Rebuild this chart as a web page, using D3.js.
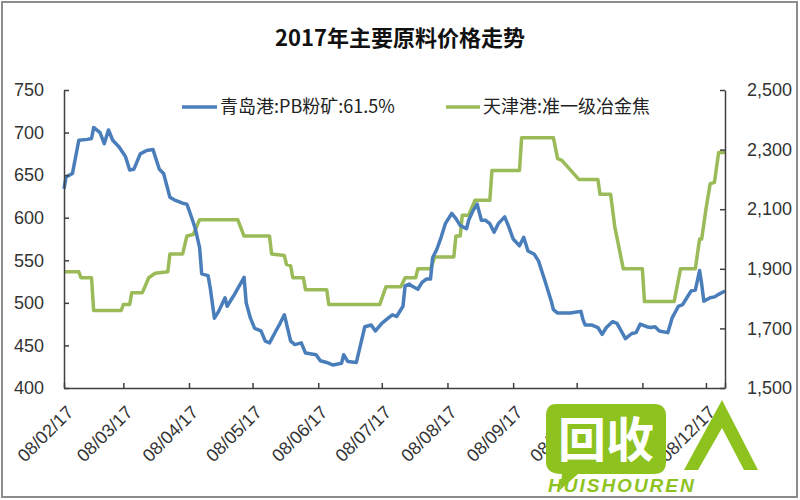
<!DOCTYPE html>
<html>
<head>
<meta charset="utf-8">
<script src="https://cdn.jsdelivr.net/npm/d3@7"></script>
<style>
  html, body { margin: 0; padding: 0; background: #fff; }
  svg { display: block; }
</style>
</head>
<body>
<svg id="chart" width="800" height="500"></svg>
<script>
// ---------------- data ----------------
const title = "2017年主要原料价格走势";
const seriesNames = ["青岛港:PB粉矿:61.5%", "天津港:准一级冶金焦"];

const xTickLabels = ["2017-02-08","2017-03-08","2017-04-08","2017-05-08","2017-06-08","2017-07-08",
                     "2017-08-08","2017-09-08","2017-10-08","2017-11-08","2017-12-08"];
const xDomain = ["2017-02-08", "2017-12-17"];
const leftTicks = [400, 450, 500, 550, 600, 650, 700, 750];
const rightTicks = [1500, 1700, 1900, 2100, 2300, 2500];

const blueDates = ["02-08","02-09","02-12","02-15","02-19","02-21","02-22","02-25","02-27","03-01",
  "03-03","03-06","03-09","03-11","03-13","03-16","03-19","03-22","03-25","03-27",
  "03-30","04-01","04-05","04-07","04-09","04-11","04-13","04-14","04-17","04-18",
  "04-20","04-22","04-25","04-26","04-29","05-04","05-05","05-07","05-09","05-12",
  "05-14","05-16","05-19","05-21","05-23","05-26","05-28","05-31","06-02","06-07",
  "06-09","06-12","06-15","06-19","06-20","06-22","06-26","06-30","07-03","07-05",
  "07-08","07-11","07-13","07-15","07-18","07-19","07-21","07-22","07-25","07-27",
  "07-29","07-31","08-01","08-03","08-05","08-07","08-10","08-12","08-14","08-17",
  "08-18","08-20","08-22","08-24","08-26","08-28","08-30","09-01","09-04","09-06",
  "09-08","09-11","09-13","09-15","09-18","09-20","09-23","09-26","09-27","09-29",
  "10-05","10-10","10-11","10-12","10-15","10-18","10-20","10-22","10-25","10-27",
  "10-29","10-31","11-03","11-05","11-07","11-10","11-12","11-14","11-16","11-20",
  "11-22","11-25","11-27","11-29","12-01","12-03","12-05","12-06","12-07","12-10",
  "12-12","12-14","12-17"];
const blueValues = [634,648,652,691,692,693,706,700,687,703,
  691,683,672,656,657,675,679,680,657,652,
  624,621,617,616,602,587,565,534,532,518,
  482,490,506,496,508,530,500,482,470,467,
  455,453,467,476,486,455,451,453,441,439,
  432,430,427,429,439,431,430,472,474,467,
  476,482,486,484,496,520,522,520,516,524,
  528,528,553,563,577,593,605,599,591,587,
  597,608,616,597,597,593,583,593,601,589,
  575,567,577,561,557,549,526,502,492,488,
  488,490,480,474,474,471,463,471,478,476,
  467,458,464,465,475,472,471,472,467,465,
  482,496,498,506,514,515,538,522,502,506,
  507,510,514];

const greenDates = ["02-08","02-15","02-16","02-21","02-22","03-07","03-08","03-11","03-12","03-17",
  "03-20","03-23","03-29","03-30","04-05","04-07","04-10","04-13","05-01","05-04",
  "05-16","05-17","05-23","05-24","05-26","05-27","06-01","06-02","06-12","06-13",
  "07-07","07-10","07-17","07-19","07-24","07-25","07-31","08-02","08-11","08-12",
  "08-14","08-15","08-18","08-21","08-28","08-29","09-11","09-12","09-27","09-29",
  "10-01","10-09","10-18","10-19","10-24","10-26","10-30","11-08","11-09","11-23",
  "11-26","12-03","12-05","12-06","12-08","12-10","12-12","12-14","12-17"];
const greenValues = [1890,1890,1870,1870,1760,1760,1780,1780,1820,1820,
  1870,1885,1890,1950,1950,2010,2015,2065,2065,2010,
  2010,1950,1945,1915,1910,1870,1870,1830,1830,1780,
  1780,1840,1840,1870,1870,1900,1900,1940,1940,2010,
  2010,2080,2080,2130,2130,2230,2230,2340,2340,2270,
  2264,2200,2200,2150,2150,2040,1900,1900,1790,1790,
  1900,1900,2000,2000,2100,2185,2190,2290,2290];

// ---------------- chart ----------------
const parse = d3.timeParse("%Y-%m-%d");
const fmt = d3.timeFormat("%d/%m/%y");
const svg = d3.select("#chart");

const L = 64, R = 725, T = 90, B = 388;
const x = d3.scaleTime().domain(xDomain.map(parse)).range([L, R]);
const yL = d3.scaleLinear().domain([400, 750]).range([B, T]);
const yR = d3.scaleLinear().domain([1500, 2500]).range([B, T]);

const BLUE = "#4a7ebb", GREEN = "#9bbb59";
const axisColor = "#404040";
const labelFont = "'Liberation Sans', Arial, sans-serif";
const cjkFont = "'Noto Sans CJK SC', sans-serif";

svg.append("rect").attr("x", 0).attr("y", 0).attr("width", 800).attr("height", 500).attr("fill", "#fff");
svg.append("rect").attr("x", 2).attr("y", 2).attr("width", 795).attr("height", 495)
  .attr("fill", "none").attr("stroke", "#8c8c8c").attr("stroke-width", 2);

// title
svg.append("text").attr("x", 400).attr("y", 46).attr("text-anchor", "middle")
  .attr("font-family", cjkFont).attr("font-weight", "bold").attr("font-size", 22)
  .attr("fill", "#111").text(title);

// lines
const blueData = blueDates.map((d, i) => ({ date: parse("2017-" + d), value: blueValues[i] }));
const greenData = greenDates.map((d, i) => ({ date: parse("2017-" + d), value: greenValues[i] }));

svg.append("path").datum(greenData)
  .attr("fill", "none").attr("stroke", GREEN).attr("stroke-width", 3.5).attr("stroke-linejoin", "round")
  .attr("d", d3.line().x(d => x(d.date)).y(d => yR(d.value)));
svg.append("path").datum(blueData)
  .attr("fill", "none").attr("stroke", BLUE).attr("stroke-width", 3.5).attr("stroke-linejoin", "round")
  .attr("d", d3.line().x(d => x(d.date)).y(d => yL(d.value)));

// axes
function styleAxis(g) {
  g.selectAll("path, line").attr("stroke", axisColor).attr("stroke-width", 1.5);
  g.selectAll("text").attr("font-family", labelFont).attr("font-size", 18).attr("fill", "#333");
}
const gL = svg.append("g").attr("transform", `translate(${L},0)`)
  .call(d3.axisLeft(yL).tickValues(leftTicks).tickSizeInner(-5).tickSizeOuter(0).tickPadding(20).tickFormat(d3.format("d")));
styleAxis(gL);
const gR = svg.append("g").attr("transform", `translate(${R},0)`)
  .call(d3.axisRight(yR).tickValues(rightTicks).tickSizeInner(-5).tickSizeOuter(0).tickPadding(22).tickFormat(d3.format(",")));
styleAxis(gR);
const gX = svg.append("g").attr("transform", `translate(0,${B})`)
  .call(d3.axisBottom(x).tickValues(xTickLabels.map(parse).concat([parse(xDomain[1])])).tickSizeInner(-5).tickSizeOuter(0).tickFormat(""));
styleAxis(gX);

// rotated x labels
svg.append("g").selectAll("text").data(xTickLabels.map(parse)).join("text")
  .attr("transform", d => `translate(${x(d) + 6},${B + 21}) rotate(-45)`)
  .attr("text-anchor", "end").attr("dy", "0.35em")
  .attr("font-family", labelFont).attr("font-size", 18).attr("fill", "#333")
  .text(d => fmt(d));

// legend
const legend = [
  { name: seriesNames[0], color: BLUE, x: 182, w: 35 },
  { name: seriesNames[1], color: GREEN, x: 446, w: 34 }
];
const lg = svg.append("g").selectAll("g").data(legend).join("g");
lg.append("line").attr("x1", d => d.x).attr("x2", d => d.x + d.w).attr("y1", 107).attr("y2", 107)
  .attr("stroke", d => d.color).attr("stroke-width", 3.5);
lg.append("text").attr("x", d => d.x + d.w + 3).attr("y", 107).attr("dy", "0.35em")
  .attr("font-family", cjkFont).attr("font-size", 18).attr("fill", "#222").text(d => d.name);

// watermark (approximate)
const wm = svg.append("g");
wm.append("path")
  .attr("d", "M556,404 H654 Q666,404 666,416 V462 Q666,474 654,474 H578 L560,490 L562,474 Q546,474 546,462 V416 Q546,404 556,404 Z")
  .attr("fill", "#8dc21f");
wm.append("text").attr("x", 606).attr("y", 457).attr("text-anchor", "middle")
  .attr("font-family", cjkFont).attr("font-weight", "bold").attr("font-size", 48).attr("fill", "#fff").text("回收");
wm.append("path").attr("d", "M684,470 L722,400 L758,470 L744,470 L722,428 L698,470 Z").attr("fill", "#8dc21f");
wm.append("text").attr("x", 548).attr("y", 492)
  .attr("font-family", labelFont).attr("font-weight", "bold").attr("font-style", "italic").attr("font-size", 19)
  .attr("letter-spacing", 2)
  .attr("fill", "#8dc21f").text("HUISHOUREN");
</script>
</body>
</html>
